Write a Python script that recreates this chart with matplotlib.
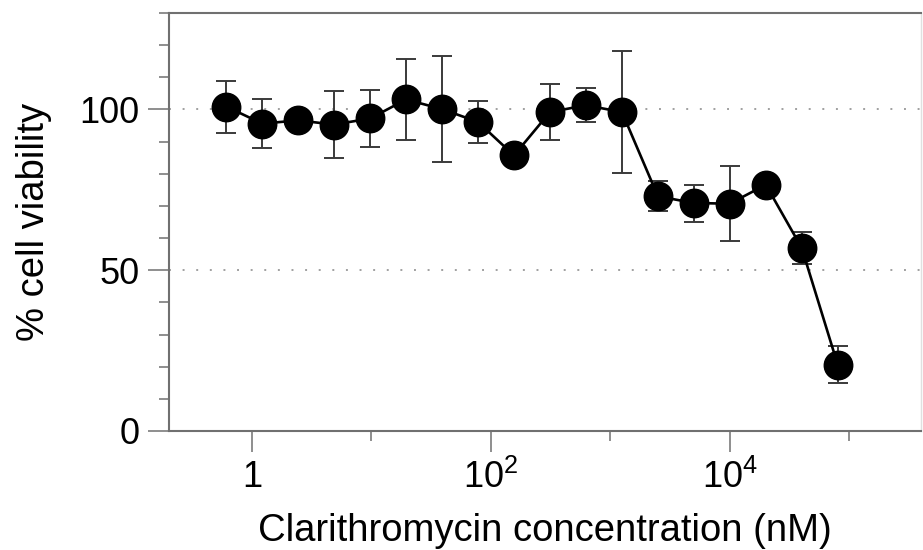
import numpy as np
import matplotlib
matplotlib.use("Agg")
import matplotlib.pyplot as plt
from matplotlib.ticker import FixedLocator, NullFormatter

# Konzentrationen (nM), 2-fache Verdünnung ab 80 µM
konz = [0.61, 1.22, 2.44, 4.88, 9.77, 19.5, 39.1, 78.1, 156, 312.5,
        625, 1250, 2500, 5000, 10000, 20000, 40000, 80000]
viab = [100.9, 95.6, 96.6, 95.3, 97.2, 103.1, 100.1, 96.1, 85.7, 99.2,
        101.3, 99.2, 73.0, 70.9, 70.7, 76.6, 56.9, 20.6]
fehler = [8.1, 7.7, 1.5, 10.4, 8.9, 12.7, 16.5, 6.6, 1.5, 8.6,
          5.3, 19.0, 4.7, 5.75, 11.7, 1.0, 5.0, 5.8]

x_major = [1, 1e2, 1e4]
x_major_labels = ["1", "$10^{2}$", "$10^{4}$"]
x_minor = [10, 1e3, 1e5]
y_major = [0, 50, 100]
y_minor = [10, 20, 30, 40, 60, 70, 80, 90, 110, 120, 130]

plt.rcParams.update({
    "font.family": ["Liberation Sans", "DejaVu Sans"],
    "mathtext.default": "regular",
    "font.size": 26,
})

fig = plt.figure(figsize=(9.23, 5.5), dpi=100)
ax = fig.add_axes([169 / 923, 119 / 550, (921 - 169) / 923, (431 - 13) / 550])

spine_col = "#707070"

# Hilfslinien bei 50 und 100 %
for yv in [50, 100]:
    ax.axhline(yv, color="#a0a0a0", linewidth=1.4, linestyle=(0, (1, 6)), zorder=1)

ax.errorbar(konz, viab, yerr=fehler, fmt="none", ecolor="#3a3a3a",
            elinewidth=1.4, capsize=7, capthick=1.4, zorder=2)
ax.plot(konz, viab, color="black", linewidth=1.9, marker="o", markersize=20.5,
        markerfacecolor="black", markeredgecolor="black", zorder=3)

ax.set_xscale("log")
ax.set_xlim(10 ** -0.694, 10 ** 5.6)
ax.set_ylim(0, 130)

ax.xaxis.set_major_locator(FixedLocator(x_major))
ax.set_xticklabels(x_major_labels)
ax.xaxis.set_minor_locator(FixedLocator(x_minor))
ax.xaxis.set_minor_formatter(NullFormatter())
ax.yaxis.set_major_locator(FixedLocator(y_major))
ax.yaxis.set_minor_locator(FixedLocator(y_minor))

ax.tick_params(axis="both", which="major", length=15, width=1.1, color=spine_col,
               direction="out", labelsize=26, pad=6)
ax.tick_params(axis="both", which="minor", length=7.5, width=1.1, color=spine_col,
               direction="out")

for side in ["left", "bottom", "top"]:
    ax.spines[side].set_color(spine_col)
    ax.spines[side].set_linewidth(1.5)
ax.spines["right"].set_color("#e0e0e0")
ax.spines["right"].set_linewidth(1.0)

ax.set_xlabel("Clarithromycin concentration (nM)", fontsize=27.5, labelpad=12)
ax.set_ylabel("% cell viability", fontsize=27.5, labelpad=20)

fig.savefig("out.png", dpi=100)
